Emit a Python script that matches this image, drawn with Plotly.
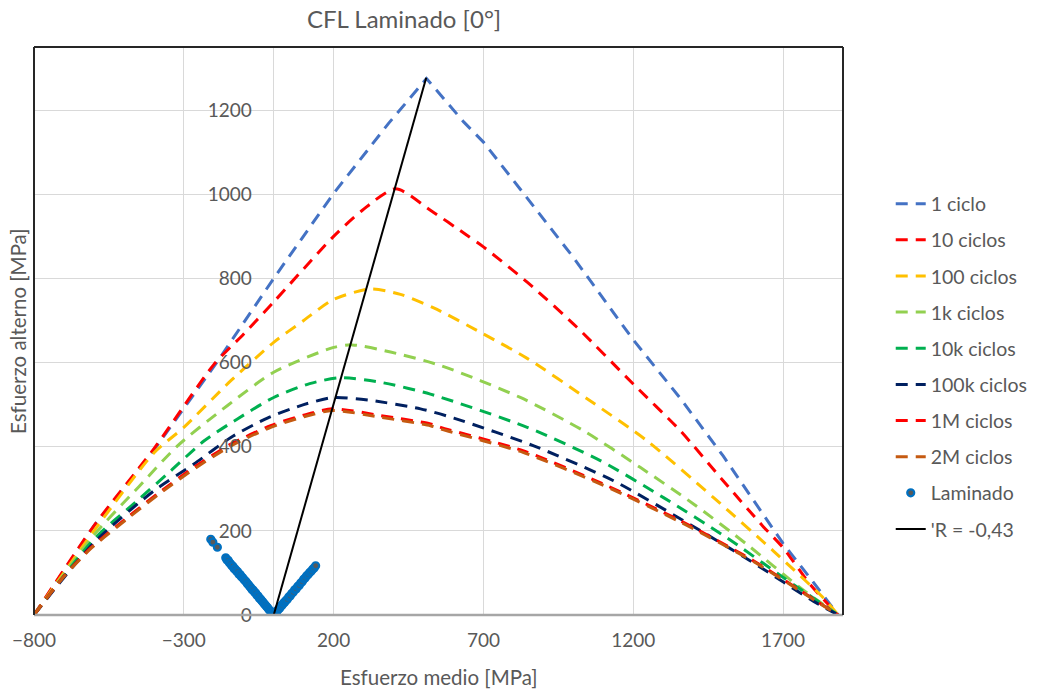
import plotly.graph_objects as go

# Constant-life curves: mean stress (x) vs alternating stress (y), MPa
c1_m = [-800, -600, -400, -200, 0, 200, 384, 510, 634, 700, 823, 1000, 1200, 1357, 1500, 1623, 1700, 1790, 1884]
c1_a = [0, 212, 392, 590, 800, 1002, 1169, 1275, 1172, 1124, 1012, 850, 654, 515, 378, 250, 170, 88, 0]

c10_m = [-800, -600, -400, -200, -100, 0, 200, 296, 407, 523, 646, 700, 846, 1012, 1200, 1357, 1500, 1634, 1700, 1790, 1884]
c10_a = [0, 212, 395, 595, 668, 744, 900, 962, 1013, 962, 902, 875, 791, 684, 549, 438, 319, 210, 160, 73, 0]

c100_m = [-800, -600, -400, -300, -143, 0, 100, 200, 323, 423, 534, 700, 846, 1046, 1246, 1468, 1668, 1834, 1884]
c100_a = [0, 200, 385, 446, 557, 648, 700, 750, 775, 762, 730, 668, 610, 514, 414, 279, 152, 41, 0]

c1k_m = [-800, -600, -450, -321, -154, 0, 200, 262, 390, 557, 823, 1034, 1223, 1401, 1579, 1757, 1884]
c1k_a = [0, 190, 305, 402, 498, 577, 636, 642, 625, 593, 517, 438, 351, 264, 168, 65, 0]

c10k_m = [-800, -600, -450, -343, -232, -121, 0, 120, 223, 357, 523, 846, 1090, 1301, 1512, 1701, 1884]
c10k_a = [0, 180, 275, 343, 414, 466, 517, 550, 564, 553, 525, 446, 367, 279, 184, 89, 0]

c100k_m = [-800, -600, -400, -266, -143, -21, 100, 200, 323, 490, 601, 868, 1134, 1368, 1590, 1801, 1884]
c100k_a = [0, 172, 295, 359, 422, 468, 500, 517, 510, 490, 468, 402, 319, 224, 129, 33, 0]

c1M_m = [-800, -704, -610, -488, -382, -266, -143, -10, 100, 196, 357, 523, 557, 834, 1101, 1357, 1601, 1812, 1884]
c1M_a = [0, 89, 160, 232, 291, 351, 406, 450, 475, 490, 474, 454, 446, 390, 311, 224, 129, 33, 0]

c2M_m = [-800, -704, -610, -488, -382, -266, -143, -10, 100, 196, 357, 523, 557, 834, 1101, 1357, 1601, 1812, 1884]
c2M_a = [0, 88, 158, 229, 288, 347, 402, 446, 471, 486, 470, 450, 442, 386, 308, 221, 127, 32, 0]

# Laminate test points
lam_m = [-210, -203, -188, -160, -156, -152, -148, -144, -140, -136, -132, -128, -124, -120,
         -116, -112, -108, -104, -100, -96, -92, -88, -84, -80, -76, -72, -68, -64, -60,
         -56, -52, -48, -44, -40, -36, -32, -28, -24, -20, -16, -12, -8, -5, -2, 0,
         3, 6, 9, 12, 16, 20, 24, 28, 32, 36, 40, 45, 50, 55, 60, 65, 70, 75, 80, 85,
         90, 95, 100, 105, 110, 115, 120, 125, 130, 135, 140]
lam_a = [180, 173, 161, 136, 131, 130, 124, 122, 117, 116, 110, 109, 104, 103,
         97, 96, 91, 89, 85, 82, 79, 74, 72, 68, 65, 60, 59, 54, 52,
         47, 45, 40, 38, 34, 31, 27, 24, 20, 17, 13, 10, 7, 4, 2, 0,
         3, 5, 8, 10, 14, 16, 21, 23, 28, 30, 34, 37, 43, 45, 51, 54, 60, 62, 68, 70,
         76, 79, 85, 88, 93, 96, 101, 104, 109, 112, 117]

# Load-ratio line R = -0.43
r_m = [0, 509]
r_a = [0, 1277]

curves = [
    ("1 ciclo", c1_m, c1_a, "#4472C4", "linear"),
    ("10 ciclos", c10_m, c10_a, "#FF0000", "spline"),
    ("100 ciclos", c100_m, c100_a, "#FFC000", "spline"),
    ("1k ciclos", c1k_m, c1k_a, "#92D050", "spline"),
    ("10k ciclos", c10k_m, c10k_a, "#00B050", "spline"),
    ("100k ciclos", c100k_m, c100k_a, "#002060", "spline"),
    ("1M ciclos", c1M_m, c1M_a, "#FF0000", "spline"),
    ("2M ciclos", c2M_m, c2M_a, "#C55A11", "spline"),
]

FONT = "Lato"
GRAY = "#595959"

fig = go.Figure()
for i, (name, xm, ya, col, shape) in enumerate(curves):
    fig.add_trace(go.Scatter(
        x=xm, y=ya, mode="lines", name=name, legendgroup=f"g{i}",
        line=dict(color=col, width=3, dash="12px,8px", shape=shape, smoothing=0.7),
    ))

fig.add_trace(go.Scatter(
    x=lam_m, y=lam_a, mode="markers", name="Laminado", legendgroup="g8",
    marker=dict(size=7, color="#595959", line=dict(color="#0070C0", width=2.2)),
))
fig.add_trace(go.Scatter(
    x=r_m, y=r_a, mode="lines", name="'R = -0,43", legendgroup="g9",
    line=dict(color="#000000", width=2),
))

fig.update_layout(
    width=1038, height=692,
    margin=dict(l=34, r=195, t=47, b=77, autoexpand=False),
    paper_bgcolor="white", plot_bgcolor="white",
    font=dict(family=FONT, size=19, color=GRAY),
    showlegend=True,
    legend=dict(
        x=1.059, y=0.758, xanchor="left", yanchor="top",
        font=dict(family=FONT, size=19.5, color=GRAY),
        tracegroupgap=7.8, bgcolor="rgba(0,0,0,0)",
    ),
    xaxis=dict(
        range=[-800, 1900], tick0=-800, dtick=500, tickmode="linear",
        showgrid=True, gridcolor="#D9D9D9", gridwidth=1,
        zeroline=True, zerolinecolor="#D9D9D9", zerolinewidth=1,
        showline=False, ticks="outside", ticklen=8, tickcolor="rgba(0,0,0,0)",
        tickfont=dict(family=FONT, size=19, color=GRAY),
    ),
    yaxis=dict(
        range=[0, 1350], tick0=0, dtick=200, tickmode="linear",
        showgrid=True, gridcolor="#D9D9D9", gridwidth=1,
        zeroline=False, showline=False,
        anchor="free", position=800 / 2700, side="left",
        ticks="outside", ticklen=0, ticklabelstandoff=18,
        tickfont=dict(family=FONT, size=19, color=GRAY),
    ),
    shapes=[
        dict(type="line", xref="paper", yref="paper", x0=0, x1=1, y0=0, y1=0,
             line=dict(color="#A6A6A6", width=2.5)),
        dict(type="line", xref="paper", yref="paper", x0=0, x1=1, y0=1, y1=1,
             line=dict(color="#262626", width=2)),
        dict(type="line", xref="paper", yref="paper", x0=0, x1=0, y0=0, y1=1,
             line=dict(color="#262626", width=2)),
        dict(type="line", xref="paper", yref="paper", x0=1, x1=1, y0=0, y1=1,
             line=dict(color="#262626", width=2)),
    ],
    annotations=[
        dict(text="CFL Laminado [0°]", xref="paper", yref="paper", x=0.457, y=1.051,
             xanchor="center", yanchor="middle", showarrow=False,
             font=dict(family=FONT, size=24, color=GRAY)),
        dict(text="Esfuerzo medio [MPa]", xref="paper", yref="paper", x=0.5, y=-0.109,
             xanchor="center", yanchor="middle", showarrow=False,
             font=dict(family=FONT, size=20.5, color=GRAY)),
        dict(text="Esfuerzo alterno [MPa]", xref="paper", yref="paper", x=-0.0198, y=0.5,
             xanchor="center", yanchor="middle", textangle=-90, showarrow=False,
             font=dict(family=FONT, size=20.5, color=GRAY)),
    ],
)

fig.write_html("out.html")
